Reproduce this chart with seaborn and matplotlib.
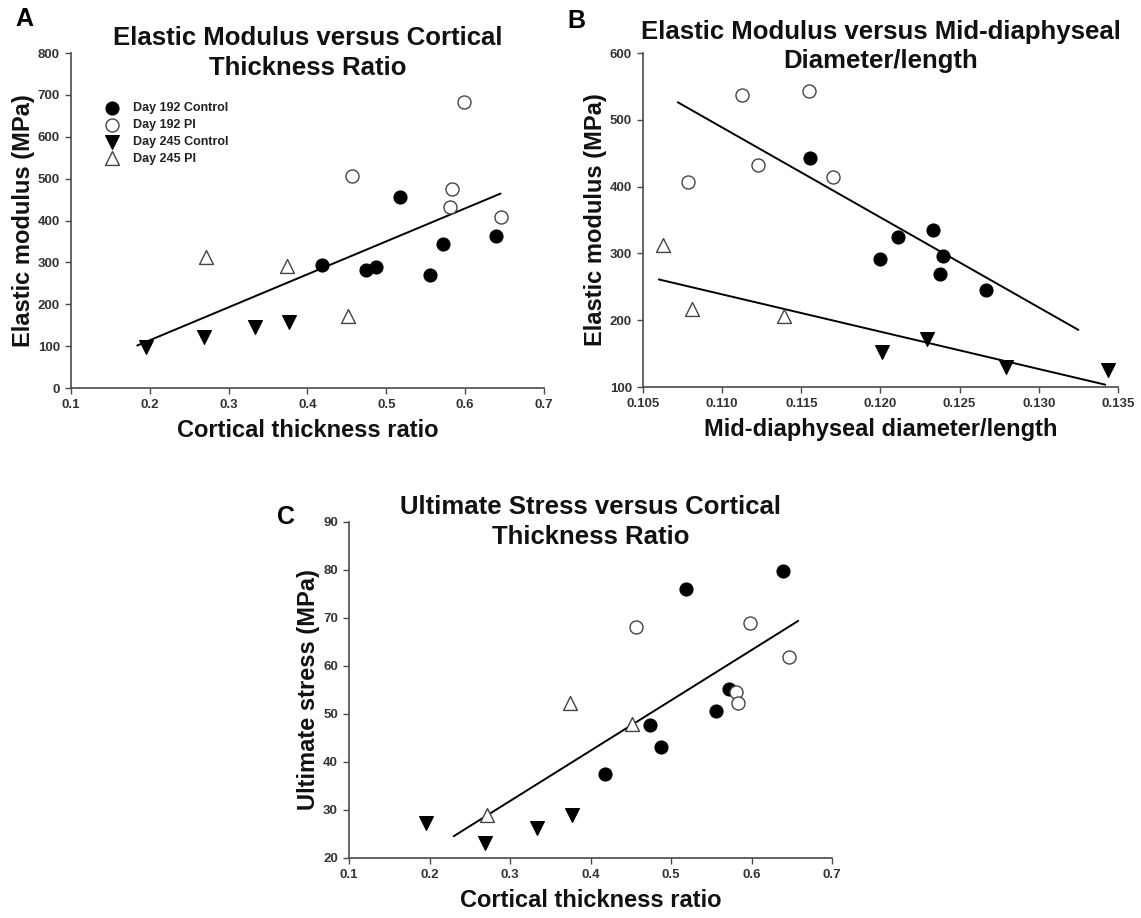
import matplotlib
matplotlib.use("Agg")
import matplotlib.pyplot as plt
import numpy as np
import seaborn as sns

# ---------------- data ----------------
GROUPS = ["Day 192 Control", "Day 192 PI", "Day 245 Control", "Day 245 PI"]

# cortical thickness ratio (panels A and C)
CTR_192_CTRL = [0.418, 0.474, 0.487, 0.518, 0.556, 0.572, 0.639]
CTR_192_PI = [0.457, 0.581, 0.583, 0.598, 0.646]
CTR_245_CTRL = [0.195, 0.269, 0.333, 0.377]
CTR_245_PI = [0.271, 0.374, 0.451]

# elastic modulus (panel A)
EM_A_192_CTRL = [294, 283, 288, 456, 270, 344, 364]
EM_A_192_PI = [506, 432, 475, 682, 408]
EM_A_245_CTRL = [98, 122, 146, 158]
EM_A_245_PI = [314, 292, 172]

# mid-diaphyseal diameter/length (panel B)
DL_192_CTRL = [0.11555, 0.11999, 0.12112, 0.12333, 0.12396, 0.12375, 0.12669]
DL_192_PI = [0.10787, 0.11127, 0.11228, 0.11548, 0.11703]
DL_245_CTRL = [0.12011, 0.12293, 0.12793, 0.13435]
DL_245_PI = [0.10625, 0.10808, 0.11391]

# elastic modulus (panel B)
EM_B_192_CTRL = [443, 291, 325, 335, 296, 269, 246]
EM_B_192_PI = [407, 537, 432, 543, 415]
EM_B_245_CTRL = [152, 172, 130, 126]
EM_B_245_PI = [313, 217, 206]

# ultimate stress (panel C)
US_192_CTRL = [37.4, 47.6, 43.1, 76.1, 50.6, 55.2, 79.7]
US_192_PI = [68.1, 54.5, 52.3, 69.0, 61.8]
US_245_CTRL = [27.3, 23.1, 26.3, 29.0]
US_245_PI = [29.0, 52.3, 47.9]

# x-extent over which each fitted regression line is drawn
FIT_RANGE_A = (0.184, 0.645)
FIT_RANGE_B_192 = (0.1072, 0.1325)
FIT_RANGE_B_245 = (0.106, 0.1342)
FIT_RANGE_C = (0.23, 0.658)

TITLE_A = "Elastic Modulus versus Cortical\nThickness Ratio"
TITLE_B = "Elastic Modulus versus Mid-diaphyseal\nDiameter/length"
TITLE_C = "Ultimate Stress versus Cortical\nThickness Ratio"

# ---------------- style ----------------
sns.set_style("ticks")
plt.rcParams["font.family"] = ["Liberation Sans", "DejaVu Sans"]
plt.rcParams["font.weight"] = "bold"
plt.rcParams["axes.labelweight"] = "bold"

SPINE = "#4a4a4a"
TICKC = "#333333"

MARKERS = {
    "Day 192 Control": dict(marker="o", color="black", edgecolor="black", s=88, linewidth=0.8),
    "Day 192 PI": dict(marker="o", color="white", edgecolor="#444444", s=88, linewidth=1.0),
    "Day 245 Control": dict(marker="v", color="black", edgecolor="black", s=100, linewidth=0.8),
    "Day 245 PI": dict(marker="^", color="white", edgecolor="#444444", s=100, linewidth=1.0),
}

fig = plt.figure(figsize=(11.41, 9.18), dpi=100)
axA = fig.add_axes([0.0622, 0.5773, 0.4145, 0.3649])
axB = fig.add_axes([0.5635, 0.5784, 0.4163, 0.3638])
axC = fig.add_axes([0.3059, 0.0654, 0.4233, 0.3660])


def scatter_groups(ax, xs, ys):
    for g, x, y in zip(GROUPS, xs, ys):
        sns.scatterplot(x=x, y=y, ax=ax, label=g, zorder=3, legend=False, **MARKERS[g])


def fit_line(ax, x, y, rng):
    ax.set_xlim(*rng)
    sns.regplot(x=np.asarray(x, float), y=np.asarray(y, float), ax=ax, scatter=False,
                ci=None, truncate=False, color="black", line_kws=dict(lw=1.4, zorder=2))


def style_axes(ax, xlim, ylim, xticks, yticks, xfmt, xlabel, ylabel, title, ty=1.0):
    ax.set_xlim(*xlim)
    ax.set_ylim(*ylim)
    ax.set_xticks(xticks)
    ax.set_yticks(yticks)
    ax.set_xticklabels([xfmt.format(v) for v in xticks])
    ax.set_yticklabels([str(v) for v in yticks])
    sns.despine(ax=ax)
    for sp in ("left", "bottom"):
        ax.spines[sp].set_color(SPINE)
        ax.spines[sp].set_linewidth(1.2)
    ax.tick_params(axis="both", direction="out", length=4, width=1.0, color=SPINE,
                   labelsize=9.5, labelcolor=TICKC, pad=4)
    for lab in ax.get_xticklabels() + ax.get_yticklabels():
        lab.set_fontweight("bold")
    ax.set_xlabel(xlabel, fontsize=17, fontweight="bold", labelpad=6, color="#111111")
    ax.set_ylabel(ylabel, fontsize=17, fontweight="bold", labelpad=2, color="#111111")
    ax.text(0.5, ty, title, transform=ax.transAxes, ha="center", va="center",
            fontsize=18.5, fontweight="bold", linespacing=1.3, color="#111111")


# ---------------- panel A ----------------
scatter_groups(axA, [CTR_192_CTRL, CTR_192_PI, CTR_245_CTRL, CTR_245_PI],
               [EM_A_192_CTRL, EM_A_192_PI, EM_A_245_CTRL, EM_A_245_PI])
fit_line(axA, CTR_192_CTRL + CTR_192_PI + CTR_245_CTRL + CTR_245_PI,
         EM_A_192_CTRL + EM_A_192_PI + EM_A_245_CTRL + EM_A_245_PI, FIT_RANGE_A)
style_axes(axA, (0.1, 0.7), (0, 800), [0.1, 0.2, 0.3, 0.4, 0.5, 0.6, 0.7],
           list(range(0, 801, 100)), "{:.1f}", "Cortical thickness ratio",
           "Elastic modulus (MPa)", TITLE_A)
leg = axA.legend(loc="upper left", bbox_to_anchor=(0.070, 0.853), bbox_transform=axA.transAxes,
                 frameon=False, fontsize=9, borderaxespad=0, borderpad=0,
                 handlelength=1.2, handletextpad=1.1, labelspacing=0.38)
for t in leg.get_texts():
    t.set_fontweight("bold")
    t.set_color("#222222")

# ---------------- panel B ----------------
scatter_groups(axB, [DL_192_CTRL, DL_192_PI, DL_245_CTRL, DL_245_PI],
               [EM_B_192_CTRL, EM_B_192_PI, EM_B_245_CTRL, EM_B_245_PI])
fit_line(axB, DL_192_CTRL + DL_192_PI, EM_B_192_CTRL + EM_B_192_PI, FIT_RANGE_B_192)
fit_line(axB, DL_245_CTRL + DL_245_PI, EM_B_245_CTRL + EM_B_245_PI, FIT_RANGE_B_245)
style_axes(axB, (0.105, 0.135), (100, 600), [0.105, 0.110, 0.115, 0.120, 0.125, 0.130, 0.135],
           list(range(100, 601, 100)), "{:.3f}", "Mid-diaphyseal diameter/length",
           "Elastic modulus (MPa)", TITLE_B, ty=1.02)

# ---------------- panel C ----------------
scatter_groups(axC, [CTR_192_CTRL, CTR_192_PI, CTR_245_CTRL, CTR_245_PI],
               [US_192_CTRL, US_192_PI, US_245_CTRL, US_245_PI])
fit_line(axC, CTR_192_CTRL + CTR_192_PI + CTR_245_CTRL + CTR_245_PI,
         US_192_CTRL + US_192_PI + US_245_CTRL + US_245_PI, FIT_RANGE_C)
style_axes(axC, (0.1, 0.7), (20, 90), [0.1, 0.2, 0.3, 0.4, 0.5, 0.6, 0.7],
           list(range(20, 91, 10)), "{:.1f}", "Cortical thickness ratio",
           "Ultimate stress (MPa)", TITLE_C)

# panel letters
for letter, (px, py) in {"A": (24, 19), "B": (576, 21), "C": (286, 517)}.items():
    fig.text(px / 1141, 1 - py / 918, letter, fontsize=18, fontweight="bold",
             ha="center", va="center", color="black")

fig.savefig("out.png", dpi=100)
